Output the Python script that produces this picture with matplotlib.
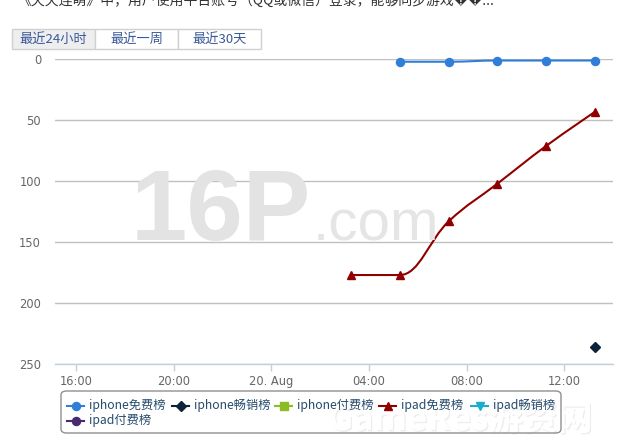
import matplotlib
matplotlib.use("Agg")
import matplotlib.pyplot as plt
from matplotlib.path import Path
from matplotlib.patches import PathPatch, Rectangle, FancyBboxPatch
from matplotlib.lines import Line2D
import matplotlib.patheffects as pe

plt.rcParams['font.family'] = ['Noto Sans CJK SC', 'DejaVu Sans']

# ---------------- data ----------------
series_names = ["iphone免费榜", "iphone畅销榜", "iphone付费榜", "ipad免费榜", "ipad畅销榜", "ipad付费榜"]
series_colors = ["#2f7ed8", "#0d233a", "#8bbc21", "#910000", "#1aadce", "#492970"]
series_markers = ["o", "D", "s", "^", "v", "o"]

# times given as hours since 19 Aug 00:00
iphone_free_times = ["29:16", "31:16", "33:16", "35:16", "37:16"]
iphone_free_rank = [2, 2, 1, 1, 1]
iphone_grossing_times = ["37:16"]
iphone_grossing_rank = [236]
iphone_paid_times = []
iphone_paid_rank = []
ipad_free_times = ["27:16", "29:16", "31:16", "33:16", "35:16", "37:16"]
ipad_free_rank = [177, 177, 133, 102, 71, 43]
ipad_grossing_times = []
ipad_grossing_rank = []
ipad_paid_times = []
ipad_paid_rank = []

x_tick_hours = [16, 20, 24, 28, 32, 36]
x_tick_labels = ["16:00", "20:00", "20. Aug", "04:00", "08:00", "12:00"]
y_ticks = [0, 50, 100, 150, 200, 250]
buttons = ["最近24小时", "最近一周", "最近30天"]
header_text = "《天天连萌》中，用户使用平台账号（QQ或微信）登录，能够同步游戏\ufffd\ufffd..."


def to_hours(ts):
    return [int(t.split(":")[0]) + int(t.split(":")[1]) / 60.0 for t in ts]


def spline_path(xs, ys, smoothing=1.5):
    """Highcharts-style spline path through the given points."""
    n = len(xs)
    verts = [(xs[0], ys[0])]
    codes = [Path.MOVETO]
    if n == 1:
        return Path(verts, codes)
    ctrl = []
    denom = smoothing + 1
    for i in range(n):
        x, y = xs[i], ys[i]
        if 0 < i < n - 1:
            lx, ly = xs[i - 1], ys[i - 1]
            nx, ny = xs[i + 1], ys[i + 1]
            lcx = (smoothing * x + lx) / denom
            lcy = (smoothing * y + ly) / denom
            rcx = (smoothing * x + nx) / denom
            rcy = (smoothing * y + ny) / denom
            corr = ((rcy - lcy) * (rcx - x)) / (rcx - lcx) + y - rcy
            lcy += corr
            rcy += corr
            if lcy > ly and lcy > y:
                lcy = max(ly, y)
                rcy = 2 * y - lcy
            elif lcy < ly and lcy < y:
                lcy = min(ly, y)
                rcy = 2 * y - lcy
            if rcy > ny and rcy > y:
                rcy = max(ny, y)
                lcy = 2 * y - rcy
            elif rcy < ny and rcy < y:
                rcy = min(ny, y)
                lcy = 2 * y - rcy
            ctrl.append(((lcx, lcy), (rcx, rcy)))
        else:
            ctrl.append(((x, y), (x, y)))
    for i in range(1, n):
        verts += [ctrl[i - 1][1], ctrl[i][0], (xs[i], ys[i])]
        codes += [Path.CURVE4] * 3
    return Path(verts, codes)


W, H = 632, 443
fig = plt.figure(figsize=(W / 100, H / 100), dpi=100)


def fx(px):
    return px / W


def fy(py):
    return 1 - py / H


ax_l, ax_r, ax_t, ax_b = 55, 613, 59.3, 364
ax = fig.add_axes([fx(ax_l), fy(ax_b), (ax_r - ax_l) / W, (ax_b - ax_t) / H])
ax.set_facecolor("none")
ax.set_xlim(15.14, 38.0)
ax.set_ylim(250, 0)

for s in ["top", "right", "left"]:
    ax.spines[s].set_visible(False)
ax.spines["bottom"].set_color("#c0d0e0")
ax.spines["bottom"].set_linewidth(1)

ax.set_yticks(y_ticks)
ax.set_yticklabels([str(v) for v in y_ticks])
ax.set_xticks(x_tick_hours)
ax.set_xticklabels(x_tick_labels)
ax.tick_params(axis="y", length=0, pad=10, labelsize=8.3, labelcolor="#666666")
ax.tick_params(axis="x", length=5, width=1, color="#c0d0e0", pad=3, labelsize=8.3, labelcolor="#666666")
ax.grid(axis="y", color="#c0c0c0", linewidth=1)
ax.set_axisbelow(True)
for lab in ax.get_xticklabels() + ax.get_yticklabels():
    lab.set_family("DejaVu Sans")

# watermark
fig.text(fx(131), fy(240), "16P", fontsize=73, fontweight="bold", color="#e3e3e3",
         family="Liberation Sans", ha="left", va="baseline", zorder=0)
fig.text(fx(313), fy(240), ".com", fontsize=42, color="#e5e5e5",
         family="Liberation Sans", ha="left", va="baseline", zorder=0)

all_series = [
    (iphone_free_times, iphone_free_rank),
    (iphone_grossing_times, iphone_grossing_rank),
    (iphone_paid_times, iphone_paid_rank),
    (ipad_free_times, ipad_free_rank),
    (ipad_grossing_times, ipad_grossing_rank),
    (ipad_paid_times, ipad_paid_rank),
]

for (times, ranks), name, col, mk in zip(all_series, series_names, series_colors, series_markers):
    xs = to_hours(times)
    if len(xs) > 1:
        ax.add_patch(PathPatch(spline_path(xs, ranks), facecolor="none", edgecolor=col,
                               linewidth=1.5, zorder=3, clip_on=False))
    if xs:
        ax.plot(xs, ranks, linestyle="none", marker=mk, markersize=5.8 if mk != "D" else 4.6,
                color=col, zorder=4, clip_on=False)

# GameRes watermark (behind legend text)
fig.text(fx(328), fy(430), "GameRes游资网", fontsize=25, color="white", fontweight="bold",
         ha="left", va="baseline", zorder=1,
         path_effects=[pe.withSimplePatchShadow(offset=(1, -1), shadow_rgbFace="#cccccc", alpha=0.35), pe.Normal()])

# legend (drawn manually in Highcharts layout)
fig.patches.append(FancyBboxPatch((fx(61), fy(433)), 500 / W, 42 / H,
                                  boxstyle="round,pad=0,rounding_size=0.009",
                                  transform=fig.transFigure, facecolor="none",
                                  edgecolor="#909090", linewidth=1, zorder=2))
leg_text_x = [89, 194, 297, 401, 493, 89]
leg_text_y = [405.5, 405.5, 405.5, 405.5, 405.5, 420.5]
for i, (name, col, mk) in enumerate(zip(series_names, series_colors, series_markers)):
    tx, ty = leg_text_x[i], leg_text_y[i]
    fig.add_artist(Line2D([fx(tx - 22), fx(tx - 5)], [fy(ty), fy(ty)], color=col, linewidth=1.5,
                          transform=fig.transFigure, zorder=3))
    fig.add_artist(Line2D([fx(tx - 13.5)], [fy(ty)], color=col, marker=mk, linestyle="none",
                          markersize=5.8 if mk != "D" else 4.6, transform=fig.transFigure, zorder=3))
    fig.text(fx(tx), fy(ty), name, fontsize=8.8, color="#274b6d", ha="left", va="center", zorder=3)

# buttons
bx = [12, 95, 178, 261]
for i, label in enumerate(buttons):
    fig.patches.append(Rectangle((fx(bx[i]), fy(49)), (bx[i + 1] - bx[i]) / W, 20 / H,
                                 transform=fig.transFigure, facecolor="#eeeeee" if i == 0 else "white",
                                 edgecolor="#d0d0d0", linewidth=1))
    fig.text(fx((bx[i] + bx[i + 1]) / 2), fy(39.5), label, fontsize=9.5, color="#3b5998",
             ha="center", va="center")

# header text (clipped at top of figure)
fig.text(fx(18), fy(5), header_text, fontsize=10, color="#333333", ha="left", va="baseline")

fig.savefig("out.png", dpi=100)
